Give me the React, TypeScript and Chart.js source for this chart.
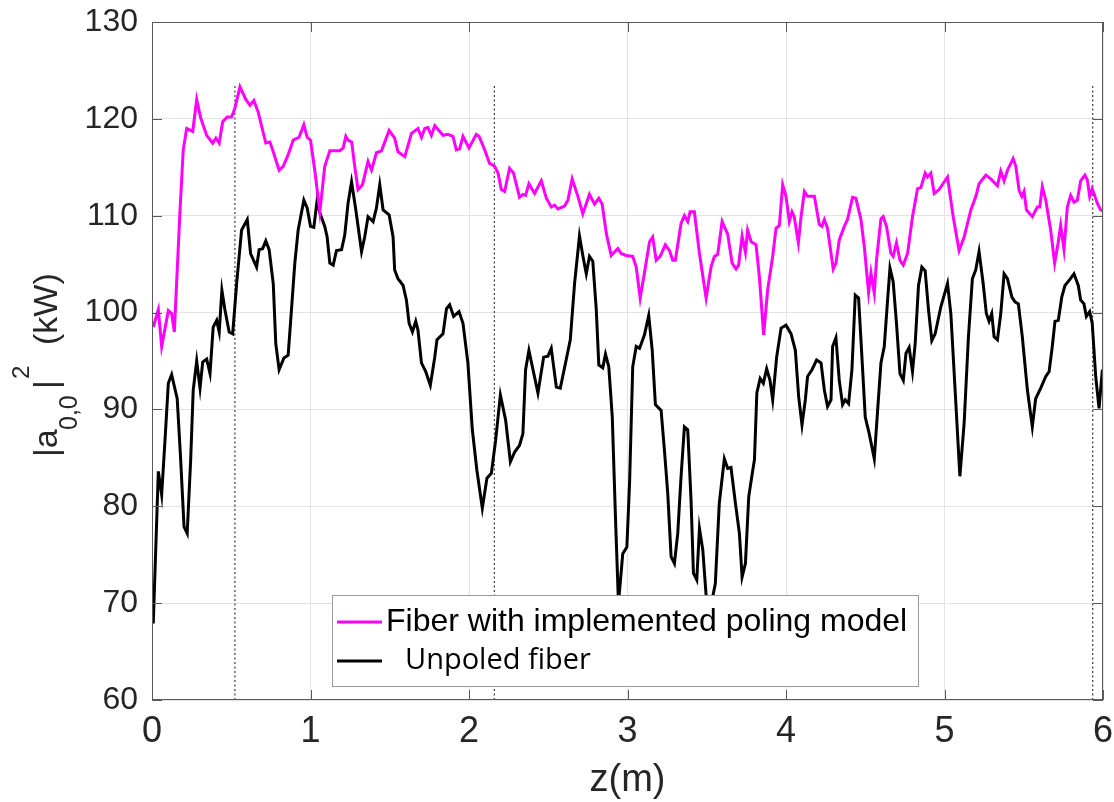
import React, { useEffect, useRef } from "react";
import { Chart, registerables } from "chart.js";

Chart.register(...registerables);

// z (m), |a0,0|^2 (kW)
const poled: [number, number][] = [
  [0.008,98.5],[0.040,100.3],[0.061,96.5],[0.103,100.2],[0.124,99.9],[0.141,98.0],[0.176,110.3],[0.197,116.8],[0.219,119.0],[0.257,118.7],[0.282,122.0],[0.307,120.1],[0.345,118.3],[0.383,117.5],[0.403,118.0],[0.424,117.5],[0.446,119.7],[0.475,120.2],[0.502,120.2],[0.523,121.1],[0.555,123.3],[0.592,122.0],[0.618,121.4],[0.643,121.9],[0.670,120.7],[0.718,117.5],[0.744,117.6],[0.765,116.6],[0.802,114.7],[0.828,115.1],[0.859,116.3],[0.891,117.8],[0.928,118.1],[0.958,119.4],[0.979,118.1],[1.000,117.8],[1.027,114.7],[1.059,110.4],[1.090,115.1],[1.122,116.7],[1.185,116.7],[1.206,117.0],[1.223,118.2],[1.237,117.8],[1.260,117.6],[1.279,115.1],[1.300,112.7],[1.328,113.2],[1.363,115.6],[1.385,114.7],[1.416,116.5],[1.448,116.7],[1.496,118.8],[1.531,118.0],[1.552,116.6],[1.595,116.1],[1.637,118.5],[1.678,119.0],[1.700,118.1],[1.721,119.0],[1.741,119.1],[1.763,118.3],[1.784,119.3],[1.836,118.3],[1.867,118.4],[1.899,118.2],[1.920,116.8],[1.941,116.9],[1.962,118.2],[2.000,117.0],[2.046,118.4],[2.063,118.2],[2.099,116.8],[2.130,115.4],[2.162,115.1],[2.183,114.4],[2.204,112.7],[2.225,112.5],[2.256,114.9],[2.281,114.4],[2.319,111.9],[2.340,112.2],[2.357,112.1],[2.378,113.3],[2.414,112.3],[2.456,113.6],[2.488,111.8],[2.519,110.9],[2.540,111.1],[2.561,110.7],[2.603,111.0],[2.624,111.6],[2.651,113.8],[2.687,112.0],[2.718,110.2],[2.760,112.2],[2.792,111.2],[2.819,111.8],[2.840,111.2],[2.866,108.2],[2.897,105.9],[2.939,106.6],[2.960,106.1],[2.992,105.9],[3.033,105.8],[3.055,104.7],[3.080,101.5],[3.107,104.1],[3.139,107.3],[3.159,107.8],[3.181,105.4],[3.206,105.8],[3.239,107.0],[3.265,106.4],[3.285,105.4],[3.302,105.4],[3.338,109.2],[3.359,110.0],[3.380,109.4],[3.395,110.4],[3.422,110.4],[3.454,106.1],[3.496,101.5],[3.527,104.7],[3.548,105.8],[3.569,106.0],[3.597,109.4],[3.632,108.1],[3.660,105.1],[3.685,104.5],[3.701,104.9],[3.723,107.9],[3.744,106.2],[3.758,108.5],[3.780,107.3],[3.811,107.0],[3.832,103.7],[3.859,97.7],[3.884,102.3],[3.916,105.8],[3.937,108.7],[3.958,109.0],[3.979,113.2],[4.000,112.0],[4.021,109.4],[4.038,110.4],[4.052,109.9],[4.078,107.2],[4.095,109.9],[4.116,112.5],[4.136,112.0],[4.179,112.0],[4.210,109.1],[4.227,108.9],[4.242,109.6],[4.262,108.7],[4.298,104.5],[4.315,105.1],[4.336,107.5],[4.368,108.9],[4.388,109.6],[4.420,111.9],[4.441,111.8],[4.473,109.6],[4.494,106.8],[4.521,102.1],[4.536,104.1],[4.557,102.0],[4.571,105.4],[4.599,109.7],[4.613,109.9],[4.634,108.9],[4.662,106.1],[4.676,105.8],[4.697,107.2],[4.719,105.4],[4.740,104.9],[4.767,106.1],[4.798,109.9],[4.830,112.8],[4.851,112.9],[4.878,114.4],[4.893,114.0],[4.914,114.4],[4.935,112.3],[4.966,112.7],[5.019,114.0],[5.055,109.9],[5.092,106.4],[5.124,107.8],[5.166,110.6],[5.198,112.0],[5.218,113.3],[5.261,114.2],[5.292,113.8],[5.334,113.1],[5.355,114.6],[5.376,113.6],[5.397,114.7],[5.433,115.9],[5.450,115.1],[5.471,112.6],[5.488,112.0],[5.502,112.5],[5.517,110.6],[5.554,109.9],[5.586,110.9],[5.601,110.9],[5.617,113.0],[5.639,111.6],[5.670,108.5],[5.695,105.1],[5.716,107.1],[5.733,109.0],[5.754,106.5],[5.775,110.9],[5.796,112.1],[5.817,111.4],[5.838,111.6],[5.859,113.6],[5.886,114.2],[5.901,113.7],[5.916,112.0],[5.932,112.8],[5.964,111.3],[5.985,110.6],[6.0,110.5]
];

const unpoled: [number, number][] = [
  [0.008,67.9],[0.040,83.6],[0.061,81.2],[0.082,86.8],[0.103,92.7],[0.124,93.6],[0.159,91.1],[0.181,84.8],[0.202,77.9],[0.222,77.2],[0.244,84.8],[0.260,92.0],[0.282,95.0],[0.303,92.2],[0.320,94.9],[0.345,95.2],[0.366,93.7],[0.386,98.5],[0.408,99.2],[0.424,98.0],[0.441,102.3],[0.460,100.3],[0.487,98.0],[0.509,97.8],[0.534,103.0],[0.565,108.5],[0.601,109.6],[0.622,106.1],[0.660,104.7],[0.676,106.5],[0.698,106.6],[0.718,107.4],[0.739,106.5],[0.765,103.0],[0.781,96.8],[0.802,94.1],[0.832,95.3],[0.859,95.6],[0.880,100.3],[0.901,105.1],[0.922,108.5],[0.958,111.6],[0.979,110.8],[1.000,108.9],[1.021,108.8],[1.042,111.6],[1.059,110.3],[1.090,108.9],[1.105,107.8],[1.122,105.1],[1.143,104.9],[1.164,106.4],[1.196,106.5],[1.216,108.0],[1.237,111.3],[1.259,113.5],[1.286,110.6],[1.322,106.3],[1.342,107.8],[1.363,109.9],[1.395,109.4],[1.416,110.8],[1.437,113.2],[1.458,110.6],[1.496,110.1],[1.521,107.8],[1.531,104.4],[1.552,103.5],[1.584,102.8],[1.605,101.3],[1.622,98.9],[1.643,98.0],[1.664,99.1],[1.678,98.2],[1.700,94.8],[1.727,93.9],[1.756,92.5],[1.784,95.4],[1.798,97.2],[1.836,97.8],[1.858,100.4],[1.878,100.8],[1.903,99.6],[1.937,100.1],[1.962,98.9],[1.993,94.8],[2.021,87.9],[2.050,83.7],[2.084,79.8],[2.113,82.9],[2.141,83.4],[2.168,86.8],[2.198,91.5],[2.231,88.9],[2.261,84.6],[2.288,85.6],[2.319,86.3],[2.340,87.5],[2.357,94.1],[2.378,96.1],[2.435,91.7],[2.471,95.4],[2.498,95.5],[2.519,96.3],[2.551,92.3],[2.576,92.2],[2.609,94.8],[2.639,97.2],[2.666,103.0],[2.697,107.9],[2.718,105.9],[2.740,104.0],[2.760,105.8],[2.781,105.3],[2.803,100.3],[2.819,94.6],[2.844,94.3],[2.861,95.7],[2.882,94.4],[2.904,89.2],[2.924,78.9],[2.943,70.0],[2.970,75.1],[2.996,75.8],[3.013,82.4],[3.033,94.4],[3.055,96.5],[3.076,96.3],[3.107,97.7],[3.134,99.7],[3.156,96.1],[3.176,90.5],[3.212,89.9],[3.233,85.8],[3.254,81.3],[3.275,74.8],[3.296,74.1],[3.317,77.2],[3.338,83.1],[3.359,88.2],[3.380,87.9],[3.401,80.6],[3.416,73.1],[3.437,72.4],[3.454,77.7],[3.475,75.5],[3.496,70.8],[3.523,69.5],[3.554,72.0],[3.579,80.3],[3.611,84.9],[3.632,83.9],[3.653,84.0],[3.681,80.3],[3.706,77.2],[3.723,72.7],[3.744,74.1],[3.765,81.0],[3.790,83.7],[3.801,84.8],[3.816,91.7],[3.837,93.2],[3.857,92.7],[3.878,94.2],[3.899,93.0],[3.916,91.0],[3.941,95.4],[3.969,98.4],[4.000,98.7],[4.032,97.8],[4.059,96.1],[4.080,91.3],[4.101,88.4],[4.122,91.0],[4.136,93.4],[4.164,94.1],[4.193,95.1],[4.221,94.8],[4.242,92.0],[4.262,90.3],[4.284,91.0],[4.294,96.5],[4.315,97.4],[4.336,93.0],[4.357,90.5],[4.374,91.0],[4.395,90.6],[4.416,94.1],[4.437,101.8],[4.458,101.5],[4.479,95.4],[4.500,89.2],[4.525,87.5],[4.557,84.9],[4.578,89.9],[4.599,94.8],[4.620,96.5],[4.641,101.3],[4.656,104.6],[4.676,103.2],[4.697,98.9],[4.719,93.7],[4.740,93.0],[4.757,95.8],[4.777,96.4],[4.798,93.9],[4.815,96.8],[4.836,102.8],[4.857,104.7],[4.878,104.3],[4.899,100.3],[4.920,97.1],[4.941,97.8],[4.977,100.6],[5.019,103.0],[5.040,99.9],[5.067,92.0],[5.097,83.1],[5.124,88.6],[5.151,97.5],[5.176,103.5],[5.197,104.4],[5.218,106.3],[5.244,103.0],[5.264,99.9],[5.281,99.1],[5.298,99.9],[5.313,97.5],[5.334,97.2],[5.355,99.9],[5.376,104.0],[5.397,103.5],[5.425,101.6],[5.445,101.1],[5.466,100.9],[5.491,97.5],[5.523,92.0],[5.554,88.2],[5.575,91.1],[5.607,92.2],[5.639,93.4],[5.660,93.9],[5.680,96.5],[5.697,99.1],[5.718,99.2],[5.740,101.6],[5.760,102.8],[5.790,103.4],[5.817,104.0],[5.844,102.8],[5.859,101.3],[5.880,100.9],[5.895,99.6],[5.916,100.1],[5.932,98.9],[5.954,93.4],[5.975,90.1],[5.996,94.1]
];

const markerZ = [0.523, 2.16, 5.935];
const markerTop = 123.4;
const legendLabels = ["Fiber with implemented poling model", "Unpoled fiber"];
const xTitle = "z(m)";

const AX = "#5a5a5a";
const TXT = "#262626";
const SANS = '"Liberation Sans", Arial, Helvetica, sans-serif';

const decorPlugin = {
  id: "decor",
  afterDatasetsDraw(chart: any) {
    const ctx = chart.ctx as CanvasRenderingContext2D;
    const { left, right, top, bottom } = chart.chartArea;
    const xs = chart.scales.x;
    const ys = chart.scales.y;
    ctx.save();
    // box
    ctx.strokeStyle = AX;
    ctx.lineWidth = 1;
    ctx.strokeRect(left + 0.5, top + 0.5, right - left - 1, bottom - top - 1);
    // inward ticks
    ctx.beginPath();
    ys.ticks.forEach((t: any) => {
      const py = Math.round(ys.getPixelForValue(t.value)) + 0.5;
      ctx.moveTo(left, py); ctx.lineTo(left + 10, py);
      ctx.moveTo(right, py); ctx.lineTo(right - 10, py);
    });
    xs.ticks.forEach((t: any) => {
      const px = Math.round(xs.getPixelForValue(t.value)) + 0.5;
      ctx.moveTo(px, bottom); ctx.lineTo(px, bottom - 10);
      ctx.moveTo(px, top); ctx.lineTo(px, top + 10);
    });
    ctx.stroke();

    // legend
    const lx = 332, ly = 595, lw = 586, lh = 91;
    ctx.fillStyle = "#ffffff";
    ctx.fillRect(lx, ly, lw, lh);
    ctx.strokeStyle = "#9a9a9a";
    ctx.strokeRect(lx + 0.5, ly + 0.5, lw, lh);
    const ds = chart.data.datasets;
    const rows = [
      { y: 622, color: ds[0].borderColor, text: legendLabels[0], tx: 386, font: "32px " + SANS },
      { y: 661, color: ds[1].borderColor, text: legendLabels[1], tx: 405, font: '29px "Open Sans", "Noto Sans", sans-serif' },
    ];
    rows.forEach((r) => {
      ctx.strokeStyle = r.color;
      ctx.lineWidth = 3;
      ctx.beginPath();
      ctx.moveTo(337, r.y); ctx.lineTo(382, r.y);
      ctx.stroke();
      ctx.fillStyle = "#000";
      ctx.font = r.font;
      ctx.textAlign = "left";
      ctx.textBaseline = "middle";
      ctx.fillText(r.text, r.tx, r.y);
    });

    // x title
    ctx.fillStyle = TXT;
    ctx.font = "38px " + SANS;
    ctx.textAlign = "center";
    ctx.textBaseline = "middle";
    ctx.fillText(xTitle, (left + right) / 2, 781);

    // y title |a_{0,0}|^2 (kW)
    ctx.translate(57, 457);
    ctx.rotate(-Math.PI / 2);
    ctx.textAlign = "left";
    ctx.textBaseline = "alphabetic";
    ctx.font = "34px " + SANS;
    ctx.fillText("|a", 0, 0);
    ctx.font = "25px " + SANS;
    ctx.fillText("0,0", 27, 20);
    ctx.font = "34px " + SANS;
    ctx.fillText("|", 68, 0);
    ctx.font = "24px " + SANS;
    ctx.fillText("2", 78, -28);
    ctx.font = "34px " + SANS;
    ctx.fillText("(kW)", 112, 0);
    ctx.restore();
  },
};

export default function App() {
  const ref = useRef<HTMLCanvasElement>(null);
  useEffect(() => {
    if (!ref.current) return;
    const markerSets = markerZ.map((z) => ({
      data: [{ x: z, y: 60 }, { x: z, y: markerTop }],
      borderColor: "#3a3a3a",
      borderWidth: 1.2,
      borderDash: [2, 2.5],
      pointRadius: 0,
      fill: false,
    }));
    const chart = new Chart(ref.current, {
      type: "line",
      data: {
        datasets: [
          {
            label: legendLabels[0],
            data: poled.map(([x, y]) => ({ x, y })),
            borderColor: "#ff00ff",
            borderWidth: 3,
            pointRadius: 0,
            tension: 0,
            fill: false,
          },
          {
            label: legendLabels[1],
            data: unpoled.map(([x, y]) => ({ x, y })),
            borderColor: "#000000",
            borderWidth: 3,
            pointRadius: 0,
            tension: 0,
            fill: false,
          },
          ...markerSets,
        ] as any,
      },
      options: {
        animation: false,
        responsive: false,
        events: [],
        layout: { padding: { left: 0, top: 22, right: 11, bottom: 0 } },
        plugins: { legend: { display: false }, tooltip: { enabled: false } },
        scales: {
          x: {
            type: "linear",
            min: 0,
            max: 6,
            ticks: { stepSize: 1, color: TXT, font: { family: SANS, size: 36 }, padding: 10, maxRotation: 0 },
            grid: { color: "#e3e3e3", lineWidth: 1, drawTicks: false },
            border: { display: false },
            afterFit: (s: any) => { s.height = 102; s.paddingLeft = 0; s.paddingRight = 0; },
          },
          y: {
            type: "linear",
            min: 60,
            max: 130,
            ticks: { stepSize: 10, color: TXT, font: { family: SANS, size: 32 }, padding: 14 },
            grid: { color: "#e3e3e3", lineWidth: 1, drawTicks: false },
            border: { display: false },
            afterFit: (s: any) => { s.width = 152; s.paddingTop = 0; s.paddingBottom = 0; },
          },
        },
      },
      plugins: [decorPlugin],
    });
    return () => chart.destroy();
  }, []);
  return (
    <div style={{ position: "absolute", left: 0, top: 0, width: 1114, height: 802, background: "#fff" }}>
      <canvas ref={ref} width={1114} height={802} style={{ display: "block" }} />
    </div>
  );
}
